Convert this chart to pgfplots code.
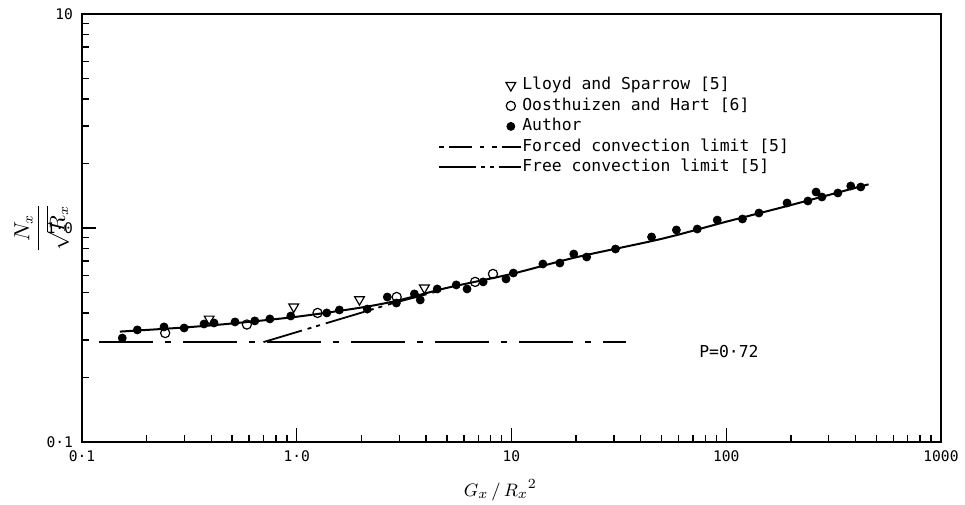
\documentclass[border=0pt]{standalone}
\usepackage{fontspec}
\setmainfont{DejaVu Sans Mono}
\usepackage{pgfplots}
\pgfplotsset{compat=1.18}
\pgfplotsset{
  legmark/.style={legend image code/.code={\path[draw=none,fill=none] (0pt,-3pt) (5pt,3pt); \draw[##1, overlay] plot coordinates {(0pt,0pt)};}},
  legforced/.style={legend image code/.code={\path[draw=none,fill=none] (0pt,-3pt) (5pt,3pt); \draw[##1, overlay, dash pattern=on 2.5pt off 2.5pt on 11.5pt off 4pt on 2pt off 4pt] (-36pt,0pt) -- (5pt,0pt);}},
  legfree/.style={legend image code/.code={\path[draw=none,fill=none] (0pt,-3pt) (5pt,3pt); \draw[##1, overlay, dash pattern=on 18.5pt off 2.5pt on 2pt off 2.5pt on 2pt off 2.5pt] (-36pt,0pt) -- (5pt,0pt);}},
}
\begin{document}
\begin{tikzpicture}
\path[use as bounding box] (-41pt,-31pt) rectangle (441.5pt,221pt);
\begin{axis}[
  at={(0,0)}, anchor=south west,
  scale only axis, width=429.5pt, height=214pt,
  xmode=log, ymode=log,
  xmin=0.1, xmax=1000, ymin=0.1, ymax=10,
  axis line style={line width=1pt},
  tick style={black, line width=0.7pt},
  tick align=inside,
  xtick pos=left, ytick pos=left,
  major tick length=7pt, minor tick length=3.5pt,
  xtick={0.1,1,10,100,1000}, xticklabels={0·1,1·0,10,100,1000},
  ytick={0.1,1,10}, yticklabels={0·1,1·0,10},
  minor xtick={0.2,0.3,0.4,0.5,0.6,0.7,0.8,0.9,2,3,4,5,6,7,8,9,20,30,40,50,60,70,80,90,200,300,400,500,600,700,800,900},
  minor ytick={0.2,0.3,0.4,0.5,0.6,0.7,0.8,0.9,2,3,4,5,6,7,8,9},
  ticklabel style={font=\fontsize{7.3}{8}\selectfont},
  xticklabel style={yshift=-1pt},
  yticklabel style={xshift=-1pt},
  xlabel={$G_x\,/\,{R_x}^{2}$},
  xlabel style={at={(axis description cs:0.487,-0.112)}, anchor=center, font=\fontsize{9.5}{10}\selectfont},
  ylabel={$\displaystyle\frac{N_x}{\sqrt{R_x}\vphantom{\Big|}}$},
  ylabel style={at={(axis description cs:-0.042,0.5)}, anchor=center, font=\fontsize{10.5}{12}\selectfont},
  legend style={draw=none, fill=none, at={(rel axis cs:0.4988,0.8575)}, anchor=north west,
    font=\fontsize{8.2}{9}\selectfont, row sep=0.25pt, column sep=0pt, inner sep=0pt,
    nodes={inner xsep=0.75pt, inner ysep=1.25pt, text height=6pt, text depth=1.5pt}},
  legend cell align=left,
]
% Lloyd and Sparrow
\addplot[only marks, mark=triangle, mark size=2.8pt, mark options={rotate=180, line width=0.6pt, fill=white}, legmark]
coordinates {(0.391,0.376) (0.968,0.428) (1.96,0.463) (3.93,0.525)};
\addlegendentry{Lloyd and Sparrow [5]}
% Oosthuizen and Hart
\addplot[only marks, mark=o, mark size=2.3pt, mark options={line width=0.6pt, fill=white}, legmark]
coordinates {(0.244,0.323) (0.586,0.354) (1.25,0.401) (2.92,0.476) (6.77,0.560) (8.20,0.610)};
\addlegendentry{Oosthuizen and Hart [6]}
% Author
\addplot[only marks, mark=*, mark size=2pt, black, legmark]
coordinates {
(0.154,0.306) (0.181,0.334) (0.241,0.345) (0.299,0.341) (0.370,0.356) (0.412,0.360)
(0.516,0.364) (0.638,0.368) (0.750,0.376) (0.938,0.388) (1.38,0.401) (1.58,0.414)
(2.13,0.418) (2.64,0.476) (2.91,0.446) (3.53,0.492) (3.76,0.461) (4.51,0.519)
(5.53,0.542) (6.21,0.519) (7.38,0.560) (9.43,0.578) (10.2,0.616) (14.0,0.679)
(16.8,0.686) (19.5,0.756) (22.4,0.732) (30.5,0.798) (44.9,0.908) (58.6,0.979)
(73.3,0.989) (90.8,1.089) (119,1.102) (142,1.175) (192,1.309) (240,1.337)
(262,1.473) (279,1.396) (331,1.457) (380,1.572) (423,1.555)};
\addlegendentry{Author}
% Forced convection limit
\addplot[black, line width=0.9pt, dash pattern=on 27pt off 6pt on 3pt off 6pt, legforced]
coordinates {(0.12,0.293) (34,0.293)};
\addlegendentry{Forced convection limit [5]}
% Free convection limit
\addplot[black, line width=0.9pt, dash pattern=on 20pt off 3pt on 2pt off 2.5pt on 2pt off 3pt, legfree]
coordinates {(0.70,0.293) (2.82,0.446) (4.5,0.505)};
\addlegendentry{Free convection limit [5]}
% Correlation curve
\addplot[black, line width=1pt, smooth, forget plot] coordinates {
(0.15,0.328) (0.3,0.343) (0.5,0.358) (1.0,0.385) (2.0,0.425) (3.0,0.46)
(5,0.525) (10,0.61) (20,0.73) (50,0.89) (100,1.07) (200,1.28) (460,1.60)};
\node[font=\fontsize{8.2}{9}\selectfont] at (axis cs:103,0.265) {P=0·72};
\end{axis}
\end{tikzpicture}
\end{document}
